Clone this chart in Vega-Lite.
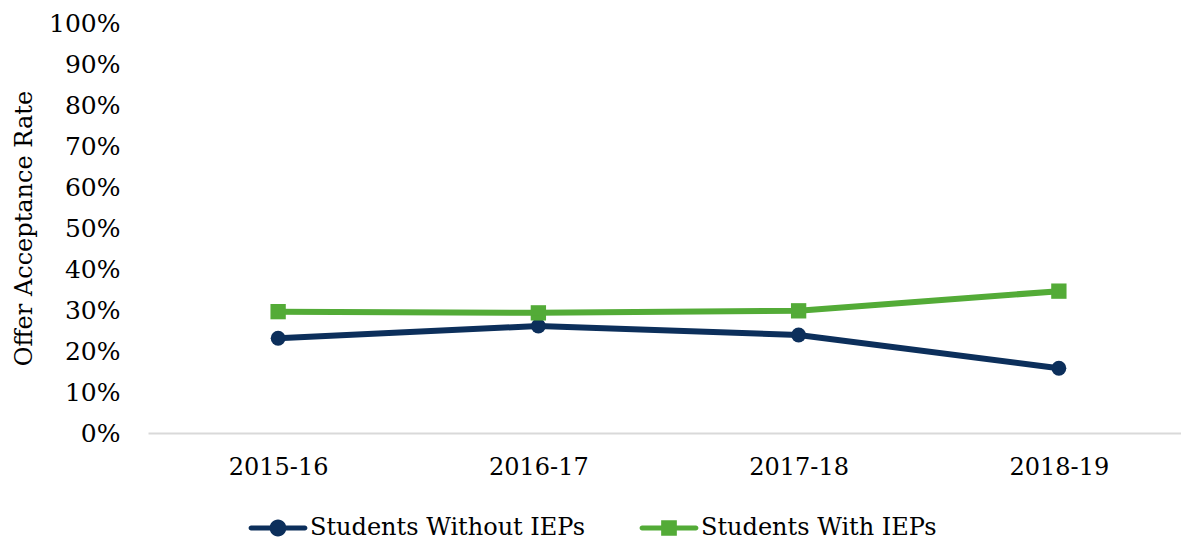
{
  "$schema": "https://vega.github.io/schema/vega-lite/v6.json",
  "autosize": {"type": "none"},
  "padding": {"left": 148, "top": 23, "right": -8, "bottom": 108},
  "width": 1041,
  "height": 410,
  "background": "white",
  "config": {
    "view": {"stroke": null},
    "font": "DejaVu Serif"
  },
  "data": {
    "values": [
      {"series": "Students Without IEPs", "year": "2015-16", "rate": 0.231},
      {"series": "Students Without IEPs", "year": "2016-17", "rate": 0.261},
      {"series": "Students Without IEPs", "year": "2017-18", "rate": 0.239},
      {"series": "Students Without IEPs", "year": "2018-19", "rate": 0.158},
      {"series": "Students With IEPs", "year": "2015-16", "rate": 0.296},
      {"series": "Students With IEPs", "year": "2016-17", "rate": 0.293},
      {"series": "Students With IEPs", "year": "2017-18", "rate": 0.298},
      {"series": "Students With IEPs", "year": "2018-19", "rate": 0.346}
    ]
  },
  "encoding": {
    "x": {
      "field": "year", "type": "ordinal",
      "scale": {"type": "point", "padding": 0.5},
      "axis": {
        "title": null, "labelAngle": 0, "ticks": false, "tickSize": 0,
        "labelPadding": 22, "labelFontSize": 24, "labelColor": "#000000",
        "labelFont": "DejaVu Serif",
        "domainColor": "#d9d9d9", "domainWidth": 2, "grid": false
      }
    },
    "y": {
      "field": "rate", "type": "quantitative",
      "scale": {"domain": [0, 1], "nice": false},
      "axis": {
        "title": "Offer Acceptance Rate", "titleFontSize": 24, "titleFontWeight": "normal",
        "titleColor": "#000000", "titleFont": "DejaVu Serif", "titlePadding": 12,
        "values": [0, 0.1, 0.2, 0.3, 0.4, 0.5, 0.6, 0.7, 0.8, 0.9, 1],
        "format": ".0%", "labelFontSize": 25, "labelColor": "#000000",
        "labelFont": "DejaVu Serif",
        "ticks": false, "tickSize": 0, "labelPadding": 28, "domain": false, "grid": false
      }
    },
    "color": {
      "field": "series", "type": "nominal",
      "scale": {"domain": ["Students Without IEPs", "Students With IEPs"], "range": ["#0c2f5b", "#53ab37"]},
      "legend": {
        "title": null, "orient": "none", "direction": "horizontal",
        "legendX": 102, "legendY": 477, "labelLimit": 500,
        "labelFontSize": 24, "labelColor": "#000000", "labelFont": "DejaVu Serif",
        "labelOffset": 4, "columnPadding": 53, "symbolSize": 3136,
        "symbolStrokeWidth": 0, "symbolOpacity": 1,
        "symbolType": {"expr": "datum.value === 'Students Without IEPs' ? 'M-0.96,-0.09 L0.96,-0.09 A0.09,0.09 0 0,1 0.96,0.09 L-0.96,0.09 A0.09,0.09 0 0,1 -0.96,-0.09 Z M0.3,0 A0.3,0.3 0 1,1 -0.3,0 A0.3,0.3 0 1,1 0.3,0 Z' : 'M-0.96,-0.09 L0.96,-0.09 A0.09,0.09 0 0,1 0.96,0.09 L-0.96,0.09 A0.09,0.09 0 0,1 -0.96,-0.09 Z M-0.28,-0.28 L0.28,-0.28 L0.28,0.28 L-0.28,0.28 Z'"}
      }
    }
  },
  "layer": [
    {
      "transform": [{"filter": "datum.series === 'Students Without IEPs'"}],
      "mark": {"type": "point", "filled": true, "shape": "circle", "size": 220, "opacity": 1}
    },
    {
      "transform": [{"filter": "datum.series === 'Students With IEPs'"}],
      "mark": {"type": "point", "filled": true, "shape": "square", "size": 235, "opacity": 1}
    },
    {"mark": {"type": "line", "strokeWidth": 6}}
  ]
}
